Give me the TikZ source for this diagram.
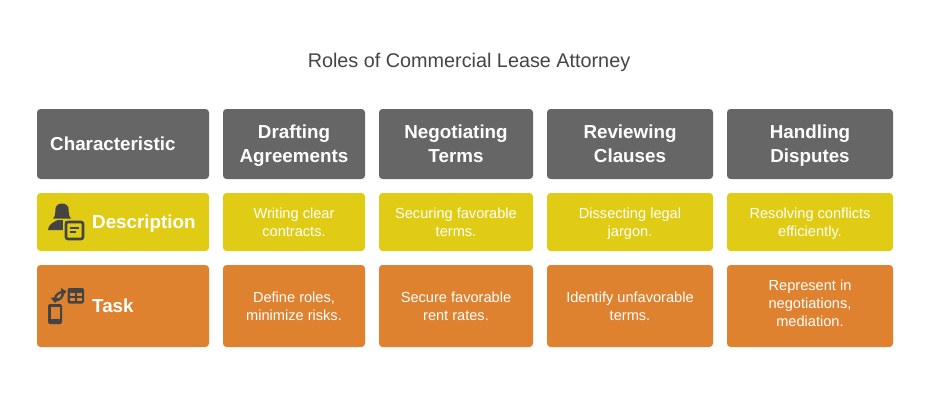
\documentclass[tikz,border=0pt]{standalone}
\usepackage{fontspec}
\setmainfont{Liberation Sans}
\definecolor{headgray}{HTML}{666666}
\definecolor{descyellow}{HTML}{E0CC14}
\definecolor{taskorange}{HTML}{DF8230}
\definecolor{icongray}{HTML}{444444}
\definecolor{titlegray}{HTML}{444444}
\tikzset{
    cell/.style={rounded corners=3.5pt,text=white,align=center,inner sep=0pt,font=\fontsize{14.6}{18}\selectfont,
        execute at begin node={\rule[-4.6pt]{0pt}{38.6pt}}},
    headcell/.style={rounded corners=3.5pt,text=white,align=center,inner sep=0pt,fill=headgray,minimum height=70pt,font=\fontsize{18.8}{24}\selectfont\bfseries,
        execute at begin node={\rule[-6pt]{0pt}{49.8pt}}},
    desccell/.style={cell,fill=descyellow,minimum height=58pt},
    taskcell/.style={cell,fill=taskorange,minimum height=82pt},
    rowlabel/.style={text=white,inner sep=0pt,anchor=base west,font=\fontsize{18.8}{24}\selectfont\bfseries},
}
\begin{document}
\begin{tikzpicture}[x=1pt,y=-1pt]
    \useasboundingbox (0,0) rectangle (938,415);
    \node[text=titlegray,font=\fontsize{19.8}{22}\selectfont] (title) at (469,62) {Roles of Commercial Lease Attorney};
    % header row
    \node[headcell,minimum width=172pt] (charhead) at (123,144) {};
    \node[rowlabel] (charlabel) at (50,150) {Characteristic};
    \node[headcell,minimum width=142pt] (drafthead) at (294,144) {Drafting\\Agreements};
    \node[headcell,minimum width=154pt] (negohead) at (456,144) {Negotiating\\Terms};
    \node[headcell,minimum width=166pt] (reviewhead) at (630,144) {Reviewing\\Clauses};
    \node[headcell,minimum width=166pt] (disputehead) at (810,144) {Handling\\Disputes};
    % description row
    \node[desccell,minimum width=172pt] (deschead) at (123,222) {};
    \node[rowlabel] (desclabel) at (92,228.5) {Description};
    \node[desccell,minimum width=142pt] (draftdesc) at (294,222) {Writing clear\\contracts.};
    \node[desccell,minimum width=154pt] (negodesc) at (456,222) {Securing favorable\\terms.};
    \node[desccell,minimum width=166pt] (reviewdesc) at (630,222) {Dissecting legal\\jargon.};
    \node[desccell,minimum width=166pt] (disputedesc) at (810,222) {Resolving conflicts\\efficiently.};
    % task row
    \node[taskcell,minimum width=172pt] (taskhead) at (123,306) {};
    \node[rowlabel] (tasklabel) at (92,312.5) {Task};
    \node[taskcell,minimum width=142pt] (drafttask) at (294,306) {Define roles,\\minimize risks.};
    \node[taskcell,minimum width=154pt] (negotask) at (456,306) {Secure favorable\\rent rates.};
    \node[taskcell,minimum width=166pt] (reviewtask) at (630,306) {Identify unfavorable\\terms.};
    \node[taskcell,minimum width=166pt,execute at begin node={\rule{0pt}{46pt}}] (disputetask) at (810,306) {Represent in\\negotiations,\\mediation.};
    % person icon
    \fill[icongray] (53,218.5) .. controls (55.5,216) and (55.3,212) .. (55.3,210) .. controls (55.3,206) and (58,203.5) .. (62,203.5) .. controls (66,203.5) and (68.7,206) .. (68.7,210) .. controls (68.7,212) and (68.5,216) .. (71,218.5) -- cycle;
    \fill[icongray] (48,230) .. controls (48,225) and (53,222) .. (58,220) -- (66,220) -- (66,230) -- cycle;
    \draw[descyellow,line width=2pt] (64,220) rectangle (84,240);
    \draw[icongray,line width=2.6pt,fill=descyellow,rounded corners=2pt] (66,222) rectangle (83,239);
    \fill[icongray] (70,226.5) rectangle (79,228.5);
    \fill[icongray] (70,231) rectangle (75.5,233);
    % phone icon
    \fill[icongray,rounded corners=2pt] (48,304) rectangle (62,324);
    \fill[taskorange] (50.5,307) rectangle (59.5,319);
    % table icon
    \fill[icongray,rounded corners=2pt] (67.5,288) rectangle (84,303.5);
    \fill[taskorange] (70,293) rectangle (75,296);
    \fill[taskorange] (77,293) rectangle (82,296);
    \fill[taskorange] (70,298) rectangle (75,301);
    \fill[taskorange] (77,298) rectangle (82,301);
    % swap arrows
    \draw[icongray,line width=2.2pt] (55,298) to[bend left=30] (62,292);
    \draw[icongray,line width=2.2pt] (56,300.5) to[bend right=35] (63,294);
    \fill[icongray] (50.5,297.5) -- (59,298) -- (55,303) -- cycle;
    \fill[icongray] (61,288) -- (66.5,291.5) -- (61.5,296.5) -- cycle;
\end{tikzpicture}
\end{document}
